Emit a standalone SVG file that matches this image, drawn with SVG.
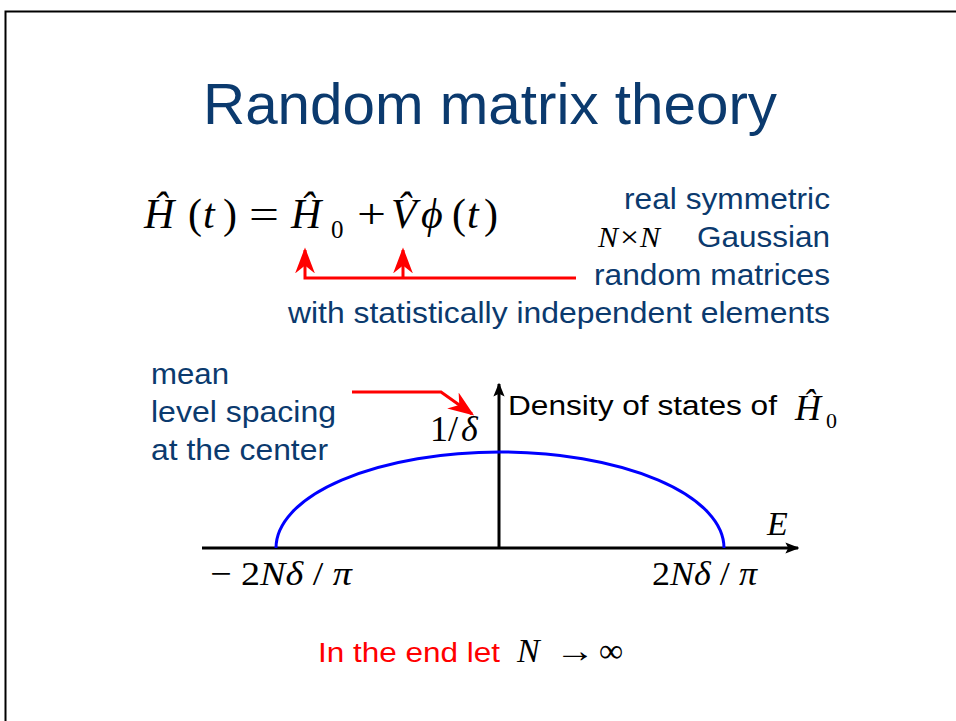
<svg xmlns="http://www.w3.org/2000/svg" width="956" height="721" viewBox="0 0 956 721">
<style>
.navy{fill:#0B3A6E;font-family:"Liberation Sans",Arial,sans-serif;}
.blk{fill:#000;font-family:"Liberation Sans",Arial,sans-serif;}
.m{font-family:"Liberation Serif","Times New Roman",serif;fill:#000;}
.i{font-style:italic;}
</style>
<defs>
<marker id="ab" viewBox="0 0 10 10" refX="9" refY="5" markerWidth="14" markerHeight="14" markerUnits="userSpaceOnUse" orient="auto">
<path d="M0,1 L10,5 L0,9 L2,5 Z" fill="#000"/>
</marker>
<marker id="ar2" viewBox="0 0 10 10" refX="9" refY="5" markerWidth="26" markerHeight="26" markerUnits="userSpaceOnUse" orient="auto">
<path d="M0,1.2 L10,5 L0,8.8 L3,5 Z" fill="#f00"/>
</marker>
</defs>
<rect x="0" y="0" width="956" height="721" fill="#fff"/>
<path d="M5.5,721 V11.5 H956" fill="none" stroke="#000" stroke-width="2"/>

<g id="title"><text class="navy" x="203" y="124" font-size="58" textLength="574" lengthAdjust="spacingAndGlyphs">Random matrix theory</text></g>

<g id="formula" font-size="42">
<text class="m i" x="144" y="228">Ĥ</text>
<text class="m" x="188" y="228">(</text>
<text class="m i" x="203" y="228">t</text>
<text class="m" x="223" y="228">)</text>
<text class="m" x="249" y="228" textLength="30" lengthAdjust="spacingAndGlyphs">=</text>
<text class="m i" x="291" y="228">Ĥ</text>
<text class="m" x="331" y="238" font-size="25">0</text>
<text class="m" x="357" y="228" textLength="29" lengthAdjust="spacingAndGlyphs">+</text>
<text class="m i" x="391" y="228">V̂</text>
<text class="m i" x="421" y="228">ϕ</text>
<text class="m" x="452" y="228">(</text>
<text class="m i" x="467" y="228">t</text>
<text class="m" x="484" y="228">)</text>
</g>

<g id="matrices" font-size="29">
<text class="navy" x="624" y="209" textLength="206" lengthAdjust="spacingAndGlyphs">real symmetric</text>
<text class="m i" x="598" y="247" font-size="30">N</text>
<text class="m" x="620" y="247" font-size="30" textLength="19" lengthAdjust="spacingAndGlyphs">×</text>
<text class="m i" x="640" y="247" font-size="30">N</text>
<text class="navy" x="697" y="247" textLength="133" lengthAdjust="spacingAndGlyphs">Gaussian</text>
<text class="navy" x="594" y="285" textLength="236" lengthAdjust="spacingAndGlyphs">random matrices</text>
<text class="navy" x="288" y="323" textLength="542" lengthAdjust="spacingAndGlyphs">with statistically independent elements</text>
</g>

<g id="spacing" font-size="29">
<text class="navy" x="151" y="384" textLength="78" lengthAdjust="spacingAndGlyphs">mean</text>
<text class="navy" x="151" y="422" textLength="185" lengthAdjust="spacingAndGlyphs">level spacing</text>
<text class="navy" x="151" y="460" textLength="177" lengthAdjust="spacingAndGlyphs">at the center</text>
</g>

<g id="connectors" fill="none">
<path d="M576,278 H305 V250" stroke="#f00" stroke-width="3" marker-end="url(#ar2)"/>
<path d="M403,278 V250" stroke="#f00" stroke-width="3" marker-end="url(#ar2)"/>
<path d="M352,392 H441 L472,414" stroke="#f00" stroke-width="3" marker-end="url(#ar2)"/>
<path d="M202,548 H798" stroke="#000" stroke-width="3" marker-end="url(#ab)"/>
<path d="M499,548 V384" stroke="#000" stroke-width="3" marker-end="url(#ab)"/>
</g>

<g id="dos">
<path d="M276,548 A224,96 0 0 1 724,548" fill="none" stroke="#00f" stroke-width="3"/>
</g>

<g id="labels">
<text class="m" x="430" y="441" font-size="36">1/</text>
<text class="m i" x="461" y="441" font-size="36">δ</text>
<text class="blk" x="508" y="415" font-size="27" textLength="269" lengthAdjust="spacingAndGlyphs">Density of states of</text>
<text class="m i" x="795" y="420" font-size="36">Ĥ</text>
<text class="m" x="826" y="428" font-size="22">0</text>
<text class="m i" x="767" y="535" font-size="34">E</text>
<text class="m" x="210" y="585" font-size="34" textLength="142" lengthAdjust="spacingAndGlyphs">− 2<tspan class="i">Nδ</tspan> / <tspan class="i">π</tspan></text>
<text class="m" x="652" y="585" font-size="34" textLength="105" lengthAdjust="spacingAndGlyphs">2<tspan class="i">Nδ</tspan> / <tspan class="i">π</tspan></text>
</g>

<g id="limit">
<text x="318" y="662" font-size="27" fill="#f00" font-family="Liberation Sans,Arial,sans-serif" textLength="182" lengthAdjust="spacingAndGlyphs">In the end let</text>
<text class="m i" x="517" y="662" font-size="34">N</text>
<text class="m" x="555" y="662" font-size="34" textLength="40" lengthAdjust="spacingAndGlyphs">→</text>
<text class="m" x="599" y="662" font-size="34">∞</text>
</g>
</svg>
